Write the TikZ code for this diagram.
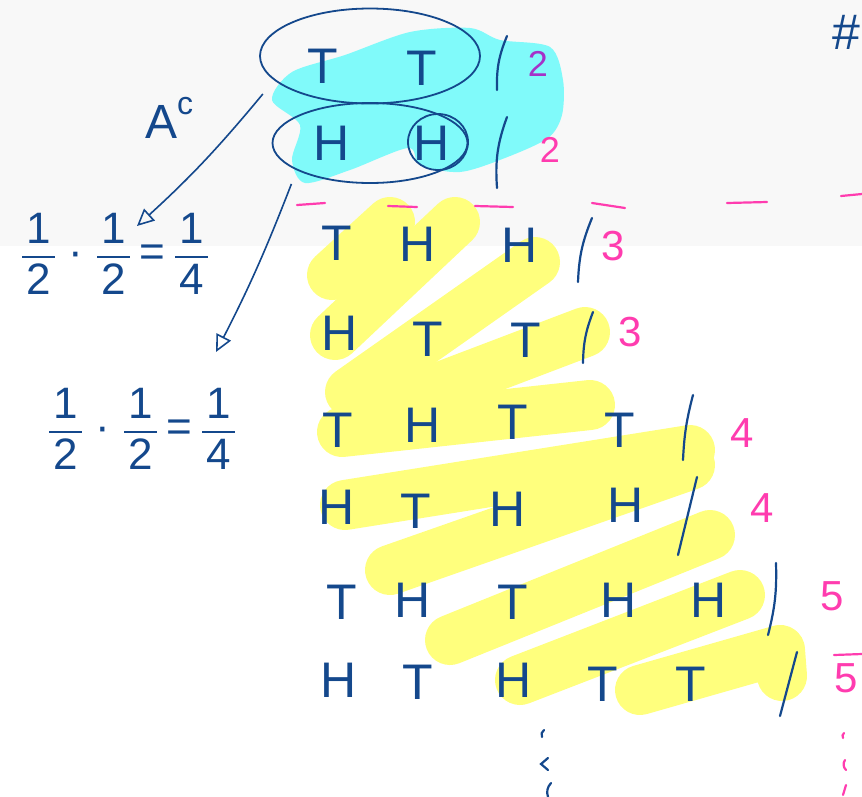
\documentclass[tikz,border=0pt]{standalone}
\usepackage{fontspec}
\setsansfont{Liberation Sans}
\usetikzlibrary{arrows.meta,shapes.geometric}
\definecolor{ink}{RGB}{20,72,140}
\definecolor{pinkink}{RGB}{255,60,175}
\definecolor{violetink}{RGB}{165,50,200}
\definecolor{hlcyan}{RGB}{128,250,250}
\definecolor{hlyellow}{RGB}{255,255,125}
\definecolor{paper}{RGB}{248,248,248}
\newcommand{\handfrac}[2]{{\setlength{\arrayrulewidth}{1.8pt}\renewcommand{\arraystretch}{0.9}%
  \begin{tabular}[c]{@{\hspace{4pt}}c@{\hspace{4pt}}}#1\\\hline\rule{0pt}{36pt}#2\end{tabular}}}
\tikzset{
  coin/.style={text=ink, inner sep=0pt, font=\sffamily\fontsize{50}{54}\selectfont},
  tally/.style={text=pinkink, inner sep=0pt, font=\sffamily\fontsize{42}{46}\selectfont},
  frac/.style={text=ink, inner sep=0pt, font=\sffamily\fontsize{44}{48}\selectfont},
  ring/.style={draw=ink, line width=1.8pt, ellipse, inner sep=0pt},
  pen/.style={ink, line width=2.2pt, line cap=round},
  pinkpen/.style={pinkink, line width=2.2pt, line cap=round},
  marker/.style={hlyellow, line width=50pt, line cap=round, line join=round},
  pointer/.style={ink, line width=1.6pt, -{Triangle[open, length=17pt, width=16pt]}},
}
\begin{document}
\begin{tikzpicture}[x=1pt, y=-1pt]
\useasboundingbox (0,0) rectangle (862,796);
\fill[paper] (0,0) rectangle (862,246);
% highlighter
\fill[hlcyan] plot[smooth cycle] coordinates {(272,100) (292,72) (345,55) (410,32) (470,28)
  (500,40) (550,47) (563,80) (562,115) (548,138) (505,158) (460,172) (420,165) (408,148)
  (350,170) (305,183) (292,160) (300,125)};
\draw[marker] (332,275) -- (390,222);
\draw[marker] (335,335) -- (455,222);
\draw[marker] (350,392) -- (535,262);
\draw[marker] (385,408) -- (585,332);
\draw[marker] (342,432) -- (590,405);
\draw[marker] (345,505) -- (690,450);
\draw[marker] (390,570) -- (690,465);
\draw[marker] (450,640) -- (710,535);
\draw[marker] (520,680) -- (740,595);
\draw[marker] (640,690) -- (780,650) -- (782,676);

% rings
\node[ring, minimum width=220, minimum height=95] (ttring) at (370,56) {};
\node[ring, minimum width=195, minimum height=80] (hhring) at (370,143) {};
\node[ring, minimum width=60, minimum height=56] (hring) at (438,142) {};

% outcomes
\node[coin] (a1) at (323,66) {T};
\node[coin] (a2) at (422,68) {T};
\node[coin] (b1) at (332,143) {H};
\node[coin] (b2) at (432,143) {H};
\node[coin] (c1) at (337,243) {T};
\node[coin] (c2) at (418,244) {H};
\node[coin] (c3) at (520,245) {H};
\node[coin] (d1) at (340,333) {H};
\node[coin] (d2) at (428,339) {T};
\node[coin] (d3) at (526,340) {T};
\node[coin] (e1) at (338,430) {T};
\node[coin] (e2) at (423,425) {H};
\node[coin] (e3) at (513,422) {T};
\node[coin] (e4) at (620,430) {T};
\node[coin] (f1) at (337,507) {H};
\node[coin] (f2) at (416,511) {T};
\node[coin] (f3) at (508,509) {H};
\node[coin] (f4) at (626,505) {H};
\node[coin] (g1) at (342,602) {T};
\node[coin] (g2) at (413,600) {H};
\node[coin] (g3) at (513,602) {T};
\node[coin] (g4) at (619,600) {H};
\node[coin] (g5) at (709,600) {H};
\node[coin] (h1) at (339,680) {H};
\node[coin] (h2) at (418,682) {T};
\node[coin] (h3) at (514,680) {H};
\node[coin] (h4) at (603,684) {T};
\node[coin] (h5) at (691,684) {T};

% separators
\draw[pen] (507,36) to[bend right=12] (497,90);
\draw[pen] (507,117) to[bend right=12] (497,188);
\draw[pen] (592,218) to[bend right=10] (578,282);
\draw[pen] (593,312) to[bend right=10] (583,363);
\draw[pen] (693,395) to[bend right=6] (683,460);
\draw[pen] (697,477) -- (678,555);
\draw[pen] (776,563) to[bend left=8] (768,635);
\draw[pen] (797,652) -- (780,716);

% lengths
\node[tally, text=violetink, font=\sffamily\fontsize{36}{40}\selectfont] (n1) at (538,64) {2};
\node[tally, font=\sffamily\fontsize{36}{40}\selectfont] (n2) at (550,150) {2};
\node[tally] (n3) at (613,246) {3};
\node[tally] (n4) at (630,332) {3};
\node[tally] (n5) at (742,433) {4};
\node[tally] (n6) at (762,508) {4};
\node[tally] (n7) at (832,596) {5};
\node[tally] (n8) at (846,678) {5};
\draw[pinkpen] (834,655) -- (862,654);
\draw[pinkpen] (297,205) -- (325,203);
\draw[pinkpen] (388,206) -- (417,207);
\draw[pinkpen] (475,206) -- (513,207);
\draw[pinkpen] (592,203) -- (625,208);
\draw[pinkpen] (727,203) -- (767,202);
\draw[pinkpen] (841,196) -- (862,194);

% dots
\draw[pen] (544,730) to[bend right=40] (542,737);
\draw[pen] (548,758) -- (541,764) -- (548,770);
\draw[pen] (551,783) to[bend right=30] (548,797);
\draw[pinkpen] (844,733) to[bend right=40] (843,738);
\draw[pinkpen] (845,760) to[bend right=40] (846,770);
\draw[pinkpen] (846,785) -- (843,795);

% labels
\node[coin, anchor=base west, font=\sffamily\fontsize{48}{52}\selectfont] (ac) at (145,138)
  {A\raisebox{24pt}{\fontsize{32}{34}\selectfont c}};
\node[coin] (hash) at (846,32) {\#};
\node[frac] (fracA) at (115,260) {\handfrac{1}{2}\hspace{14pt}·\hspace{14pt}\handfrac{1}{2}\hspace{10pt}=\hspace{10pt}\handfrac{1}{4}};
\node[frac] (fracB) at (142,435) {\handfrac{1}{2}\hspace{14pt}·\hspace{14pt}\handfrac{1}{2}\hspace{10pt}=\hspace{10pt}\handfrac{1}{4}};
\coordinate (tipA) at (137,226);
\coordinate (tipB) at (216,352);
\draw[pointer] ([xshift=-22, yshift=-7]ttring.200) to[bend left=4] (tipA);
\draw[pointer] ([xshift=-9, yshift=-12]hhring.south west) to[bend left=3] (tipB);
\end{tikzpicture}
\end{document}
